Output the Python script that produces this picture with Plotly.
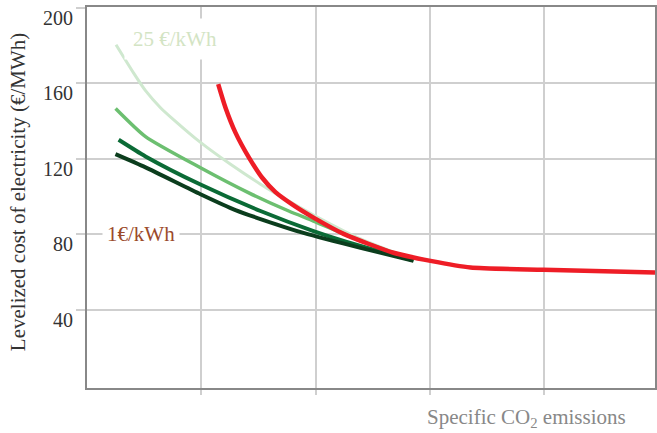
import plotly.graph_objects as go

# ---- data ----
light_x = [0.254, 0.407, 0.512, 0.643, 0.757, 0.993, 1.256, 1.518, 1.781, 1.982, 2.393, 2.857]
light_y = [180.3, 165.4, 156.0, 147.0, 140.7, 128.6, 117.0, 106.5, 97.0, 90.2, 77.5, 66.5]

mid_x = [0.25, 0.512, 0.993, 1.416, 1.765, 1.982, 2.393, 2.857]
mid_y = [146.6, 131.7, 115.2, 101.9, 92.3, 87.0, 76.5, 66.5]

dark_x = [0.277, 0.512, 0.993, 1.518, 1.982, 2.393, 2.857]
dark_y = [130.0, 121.2, 106.3, 92.3, 81.7, 73.8, 66.2]

darkest_x = [0.249, 0.512, 0.993, 1.299, 1.649, 1.894, 2.393, 2.857]
darkest_y = [122.4, 115.4, 101.2, 92.8, 85.4, 80.7, 72.8, 66.0]

red_x = [1.148, 1.212, 1.299, 1.416, 1.533, 1.649, 1.795, 1.982, 2.245, 2.682,
         3.006, 3.356, 3.994, 4.97]
red_y = [159.5, 147.0, 133.8, 120.7, 109.9, 102.3, 95.8, 88.8, 80.2, 70.2,
         65.9, 62.4, 61.2, 59.8]

y_ticks = [40, 80, 120, 160, 200]
y_tick_labels = ["40", "80", "120", "160", "200"]
x_ticks = [1, 2, 3, 4]

SERIF = "Liberation Serif, Times New Roman, serif"

fig = go.Figure()
series = [
    (light_x, light_y, "#cfe8cf", 3),
    (mid_x, mid_y, "#6cbf70", 3.5),
    (dark_x, dark_y, "#0b6b36", 4),
    (darkest_x, darkest_y, "#0b3d1d", 4),
    (red_x, red_y, "#ee1d26", 4.5),
]
for xs, ys, col, w in series:
    fig.add_trace(go.Scatter(x=xs, y=ys, mode="lines",
                             line=dict(color=col, width=w, shape="spline", smoothing=0.6),
                             showlegend=False, hoverinfo="skip"))

fig.update_layout(
    width=657, height=433,
    margin=dict(l=87, r=2, t=7, b=45),
    paper_bgcolor="white", plot_bgcolor="white",
    font=dict(family=SERIF, size=20, color="#333333"),
    xaxis=dict(range=[0, 4.97], tickvals=x_ticks, showticklabels=False,
               showgrid=True, gridcolor="#cfcfcf", gridwidth=2,
               ticks="outside", ticklen=5, tickcolor="#cfcfcf", tickwidth=2,
               showline=True, linecolor="#888888", linewidth=2, mirror=True,
               zeroline=False, automargin=False),
    yaxis=dict(range=[-1.4, 200.3], tickvals=y_ticks, showticklabels=False,
               showgrid=True, gridcolor="#cfcfcf", gridwidth=2,
               ticks="outside", ticklen=9, tickcolor="#cfcfcf", tickwidth=2,
               showline=True, linecolor="#888888", linewidth=2, mirror=True,
               zeroline=False, automargin=False),
)

# y tick labels, sitting just below their gridlines as in the reference
for v, t in zip(y_ticks, y_tick_labels):
    fig.add_annotation(text=t, xref="paper", yref="y", x=0, y=v,
                       xanchor="right", yanchor="middle", xshift=-12, yshift=-10,
                       showarrow=False, font=dict(family=SERIF, size=20, color="#333333"))

fig.add_annotation(text="Levelized cost of electricity (€/MWh)",
                   xref="paper", yref="paper", x=0, y=0.514, xshift=-69,
                   textangle=-90, showarrow=False, xanchor="center", yanchor="middle",
                   font=dict(family=SERIF, size=21, color="#333333"))
fig.add_annotation(text="Specific CO<sub>2</sub> emissions",
                   xref="paper", yref="paper", x=0.773, y=-0.0785,
                   showarrow=False, xanchor="center", yanchor="middle",
                   font=dict(family=SERIF, size=21, color="#888888"))
fig.add_annotation(text="25 €/kWh", x=0.774, y=183.3, showarrow=False,
                   bgcolor="white", borderpad=8,
                   font=dict(family=SERIF, size=21, color="#d3e4c4"))
fig.add_annotation(text="1€/kWh", x=0.47, y=80, showarrow=False,
                   bgcolor="white", borderpad=4,
                   font=dict(family=SERIF, size=21, color="#9b4a2b"))

fig.write_html("out.html", config={"displayModeBar": False},
               post_script="document.body.style.margin='0';")
